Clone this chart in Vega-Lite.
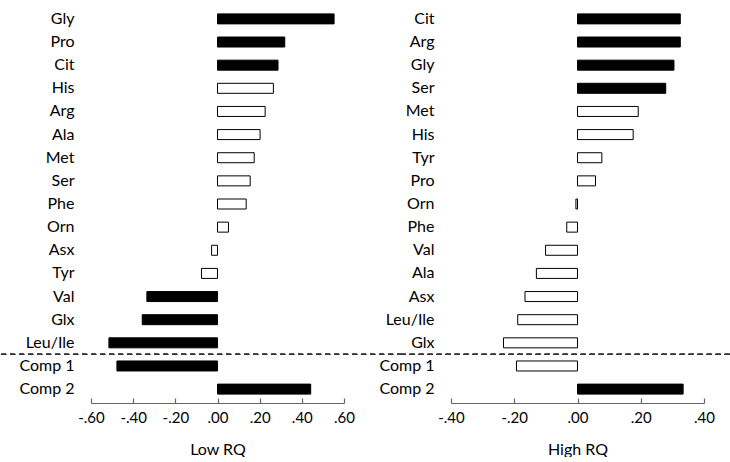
{
  "$schema": "https://vega.github.io/schema/vega-lite/v6.json",
  "padding": {"left": 0, "top": 5, "right": 0, "bottom": 0},
  "background": "white",
  "config": {
    "view": {"stroke": null},
    "font": "Lato",
    "axis": {"labelFont": "Lato", "titleFont": "Lato", "labelColor": "black", "titleColor": "black", "grid": false}
  },
  "datasets": {
    "low": [
      {"aa": "Gly", "v": 0.553, "f": "sig"},
      {"aa": "Pro", "v": 0.319, "f": "sig"},
      {"aa": "Cit", "v": 0.287, "f": "sig"},
      {"aa": "His", "v": 0.265, "f": "ns"},
      {"aa": "Arg", "v": 0.226, "f": "ns"},
      {"aa": "Ala", "v": 0.202, "f": "ns"},
      {"aa": "Met", "v": 0.174, "f": "ns"},
      {"aa": "Ser", "v": 0.155, "f": "ns"},
      {"aa": "Phe", "v": 0.136, "f": "ns"},
      {"aa": "Orn", "v": 0.052, "f": "ns"},
      {"aa": "Asx", "v": -0.028, "f": "ns"},
      {"aa": "Tyr", "v": -0.076, "f": "ns"},
      {"aa": "Val", "v": -0.335, "f": "sig"},
      {"aa": "Glx", "v": -0.357, "f": "sig"},
      {"aa": "Leu/Ile", "v": -0.515, "f": "sig"},
      {"aa": "Comp 1", "v": -0.477, "f": "sig"},
      {"aa": "Comp 2", "v": 0.442, "f": "sig"}
    ],
    "high": [
      {"aa": "Cit", "v": 0.325, "f": "sig"},
      {"aa": "Arg", "v": 0.325, "f": "sig"},
      {"aa": "Gly", "v": 0.305, "f": "sig"},
      {"aa": "Ser", "v": 0.279, "f": "sig"},
      {"aa": "Met", "v": 0.192, "f": "ns"},
      {"aa": "His", "v": 0.176, "f": "ns"},
      {"aa": "Tyr", "v": 0.077, "f": "ns"},
      {"aa": "Pro", "v": 0.057, "f": "ns"},
      {"aa": "Orn", "v": -0.005, "f": "ns"},
      {"aa": "Phe", "v": -0.034, "f": "ns"},
      {"aa": "Val", "v": -0.101, "f": "ns"},
      {"aa": "Ala", "v": -0.13, "f": "ns"},
      {"aa": "Asx", "v": -0.166, "f": "ns"},
      {"aa": "Leu/Ile", "v": -0.189, "f": "ns"},
      {"aa": "Glx", "v": -0.234, "f": "ns"},
      {"aa": "Comp 1", "v": -0.193, "f": "ns"},
      {"aa": "Comp 2", "v": 0.334, "f": "sig"}
    ]
  },
  "hconcat": [
    {
      "width": 253,
      "height": 398,
      "data": {"name": "low"},
      "encoding": {
        "y": {"field": "aa", "type": "nominal", "sort": null,
          "scale": {"domain": ["Gly","Pro","Cit","His","Arg","Ala","Met","Ser","Phe","Orn","Asx","Tyr","Val","Glx","Leu/Ile","Comp 1","Comp 2"], "paddingInner": 0, "paddingOuter": 0.1},
          "axis": {"title": null, "domain": false, "ticks": false, "labelPadding": 17, "labelFontSize": 16}}
      },
      "layer": [
        {
          "mark": {"type": "bar", "size": 10, "stroke": "black", "strokeWidth": 1},
          "encoding": {
            "x": {"field": "v", "type": "quantitative",
              "scale": {"domain": [-0.6, 0.6], "nice": false, "zero": false},
              "axis": {"title": "Low RQ", "values": [-0.6,-0.4,-0.2,0,0.2,0.4,0.6], "labelExpr": "replace(replace(format(datum.value, '.2f'), '0.', '.'), '−', '-')", "labelOverlap": false, "labelFlush": false, "labelFontSize": 15, "titleFontSize": 16, "titleFontWeight": "normal", "tickSize": -5, "labelPadding": 12, "titlePadding": 16, "domainColor": "#666", "tickColor": "#666", "domainWidth": 1.2, "tickWidth": 1.2}},
            "fill": {"field": "f", "type": "nominal", "scale": {"domain": ["sig","ns"], "range": ["black","white"]}, "legend": null}
          }
        },
        {
          "mark": {"type": "rule", "color": "#777", "strokeWidth": 1.5},
          "encoding": {"x": {"datum": 0}}
        },
        {
          "mark": {"type": "rule", "color": "#333", "strokeWidth": 1, "strokeDash": [5, 4]},
          "encoding": {
            "x": {"datum": -1.0265},
            "x2": {"datum": 0.8687},
            "y": {"datum": "Comp 1", "bandPosition": 0}
          }
        }
      ]
    },
    {
      "width": 253,
      "height": 398,
      "data": {"name": "high"},
      "encoding": {
        "y": {"field": "aa", "type": "nominal", "sort": null,
          "scale": {"domain": ["Cit","Arg","Gly","Ser","Met","His","Tyr","Pro","Orn","Phe","Val","Ala","Asx","Leu/Ile","Glx","Comp 1","Comp 2"], "paddingInner": 0, "paddingOuter": 0.1},
          "axis": {"title": null, "domain": false, "ticks": false, "labelPadding": 17, "labelFontSize": 16}}
      },
      "layer": [
        {
          "mark": {"type": "bar", "size": 10, "stroke": "black", "strokeWidth": 1},
          "encoding": {
            "x": {"field": "v", "type": "quantitative",
              "scale": {"domain": [-0.4, 0.4], "nice": false, "zero": false},
              "axis": {"title": "High RQ", "values": [-0.4,-0.2,0,0.2,0.4], "labelExpr": "replace(replace(format(datum.value, '.2f'), '0.', '.'), '−', '-')", "labelOverlap": false, "labelFlush": false, "labelFontSize": 15, "titleFontSize": 16, "titleFontWeight": "normal", "tickSize": -5, "labelPadding": 12, "titlePadding": 16, "domainColor": "#666", "tickColor": "#666", "domainWidth": 1.2, "tickWidth": 1.2}},
            "fill": {"field": "f", "type": "nominal", "scale": {"domain": ["sig","ns"], "range": ["black","white"]}, "legend": null}
          }
        },
        {
          "mark": {"type": "rule", "color": "#777", "strokeWidth": 1.5},
          "encoding": {"x": {"datum": 0}}
        },
        {
          "mark": {"type": "rule", "color": "#333", "strokeWidth": 1, "strokeDash": [5, 4]},
          "encoding": {
            "x": {"datum": -0.5589},
            "x2": {"datum": 0.482},
            "y": {"datum": "Comp 1", "bandPosition": 0}
          }
        }
      ]
    }
  ],
  "spacing": 107,
  "bounds": "flush",
  "resolve": {"scale": {"x": "independent", "y": "independent", "fill": "independent"}}
}
